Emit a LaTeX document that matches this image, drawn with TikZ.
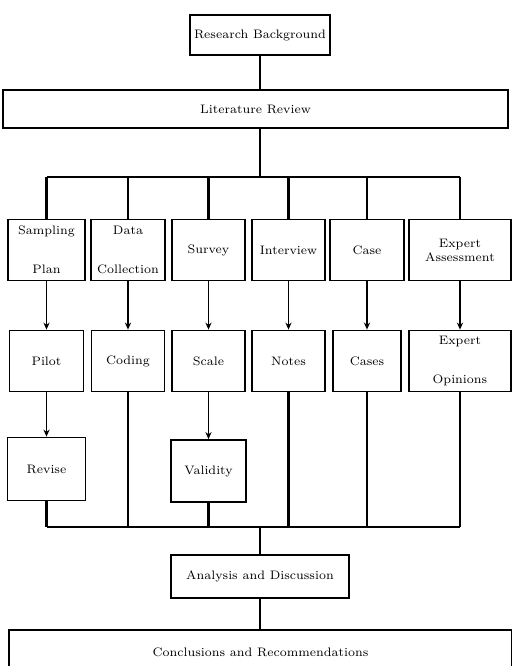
\documentclass[tikz,border=0pt]{standalone}
\usepackage{xcolor}
\usetikzlibrary{arrows.meta,positioning,calc}

\begin{document}
\begin{tikzpicture}[
    x=0.02cm, y=-0.02cm,
    box/.style={
        rectangle,
        draw=black,
        line width=1pt,
        align=center,
        inner sep=2pt,
        font=\scriptsize
    },
    wide/.style={box, minimum width=10.1cm, minimum height=0.76cm},
    stage/.style={box, minimum height=1.22cm},
    link/.style={line width=1.3pt},
    arrow/.style={-{Stealth[length=4pt,width=3.5pt]}, line width=1pt}
]

\useasboundingbox (0,0) rectangle (511,666);

% ===== Top =====
\node[box, minimum width=2.8cm, minimum height=0.8cm] (bg) at (260,35) {Research Background};
\node[wide] (lit) at (255.5,109) {Literature Review};
\draw[link] (bg.south) -- (bg.south |- lit.north);

% Upper bus
\coordinate (busT) at (260,177);

% ===== Methods row =====
\node[stage, minimum width=1.54cm] (m1) at (46.5,250) {Sampling\\[14pt] Plan};
\node[stage, minimum width=1.48cm] (m2) at (128,250) {Data\\[14pt] Collection};
\node[stage, minimum width=1.46cm] (m3) at (208.5,250) {Survey};
\node[stage, minimum width=1.46cm] (m4) at (288.5,250) {Interview};
\node[stage, minimum width=1.48cm] (m5) at (367,250) {Case};
\node[stage, minimum width=2.04cm] (m6) at (460,250) {Expert\\ Assessment};

\draw[link] (busT |- lit.south) -- (busT);
\draw[link] (m1.north |- busT) -- (m6.north |- busT);
\foreach \i in {1,...,6}
    \draw[link] (m\i.north |- busT) -- (m\i.north);

% ===== Results row =====
\node[stage, minimum width=1.48cm] (r1) at (46.5,361) {Pilot};
\node[stage, minimum width=1.46cm] (r2) at (128,361) {Coding};
\node[stage, minimum width=1.46cm] (r3) at (208.5,361) {Scale};
\node[stage, minimum width=1.46cm] (r4) at (288.5,361) {Notes};
\node[stage, minimum width=1.36cm] (r5) at (367,361) {Cases};
\node[stage, minimum width=2.04cm] (r6) at (460,361) {Expert\\[14pt] Opinions};

\foreach \i in {1,...,6}
    \draw[arrow] (m\i) -- (r\i);

% ===== Checks =====
\node[stage, minimum width=1.56cm, minimum height=1.26cm] (c1) at (46.5,469) {Revise};
\node[stage, minimum width=1.5cm, minimum height=1.24cm] (c3) at (208.5,471) {Validity};
\draw[arrow] (r1) -- (c1);
\draw[arrow] (r3) -- (c3);

% Lower bus
\coordinate (busB) at (260,527);
\draw[link] (c1.south |- busB) -- (r6.south |- busB);
\draw[link] (c1) -- (c1.south |- busB);
\draw[link] (r2) -- (r2.south |- busB);
\draw[link] (c3) -- (c3.south |- busB);
\draw[link] (r4) -- (r4.south |- busB);
\draw[link] (r5) -- (r5.south |- busB);
\draw[link] (r6) -- (r6.south |- busB);

% ===== Bottom =====
\node[box, minimum width=3.56cm, minimum height=0.86cm] (ana) at (260,576.5) {Analysis and Discussion};
\node[box, minimum width=10.06cm, minimum height=0.9cm, anchor=north] (con) at (260.5,629) {Conclusions and Recommendations};
\draw[link] (busB) -- (busB |- ana.north);
\draw[link] (ana.south) -- (ana.south |- con.north);

\end{tikzpicture}
\end{document}
